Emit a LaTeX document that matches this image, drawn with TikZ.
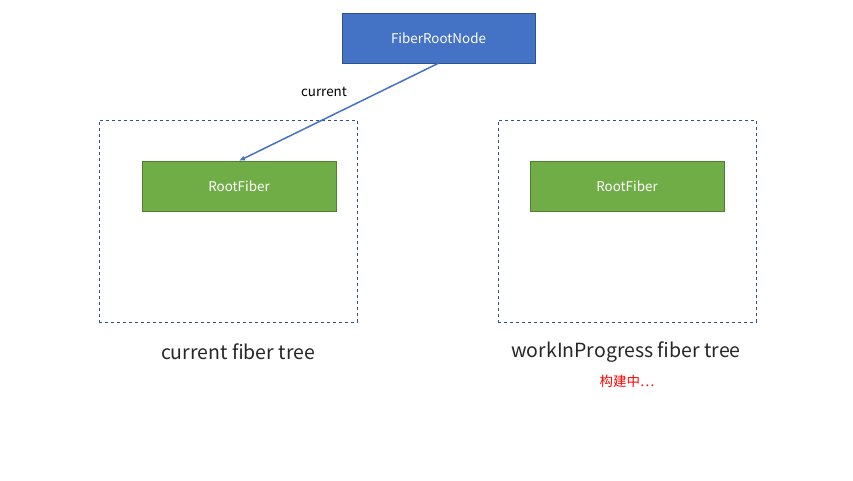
\documentclass[tikz,border=0pt]{standalone}
\usepackage{fontspec}
\setmainfont{Noto Sans CJK SC}
\usetikzlibrary{arrows.meta}
\definecolor{nodeblue}{HTML}{4472C4}
\definecolor{nodeblueline}{HTML}{2F528F}
\definecolor{nodegreen}{HTML}{70AD47}
\definecolor{nodegreenline}{HTML}{507E32}
\tikzset{
  rootnode/.style={draw=nodeblueline,fill=nodeblue,text=white,minimum width=193pt,minimum height=50pt,inner sep=0pt,font=\fontsize{13.4}{16}\selectfont},
  fibernode/.style={draw=nodegreenline,fill=nodegreen,text=white,minimum width=194pt,minimum height=50pt,inner sep=0pt,font=\fontsize{13.4}{16}\selectfont},
  treebox/.style={draw=nodeblueline,dashed,minimum width=258pt,minimum height=202pt,inner sep=0pt},
  treelabel/.style={font=\fontsize{19.5}{23}\selectfont,text=black!85}
}
\begin{document}
\begin{tikzpicture}[x=1pt,y=-1pt]
    \useasboundingbox (0,0) rectangle (853,480);
    \node[rootnode] (frn) at (438.5,38) {FiberRootNode};
    \node[treebox] (curbox) at (228,221) {};
    \node[treebox] (wipbox) at (627,221) {};
    \node[fibernode] (currf) at (239,186) {RootFiber};
    \node[fibernode] (wiprf) at (627,186) {RootFiber};
    \draw[nodeblue,line width=1.5pt,-{Latex[length=6pt,width=5pt]}] (frn.south) -- (currf.north);
    \node[font=\fontsize{13.4}{16}\selectfont] (curlbl) at (324,92) {current};
    \node[treelabel] (curtree) at (238,352) {current fiber tree};
    \node[treelabel] (wiptree) at (626,352) {workInProgress fiber tree};
    \node[red,font=\fontsize{13.5}{16}\selectfont] (building) at (627,381) {构建中…};
\end{tikzpicture}
\end{document}
